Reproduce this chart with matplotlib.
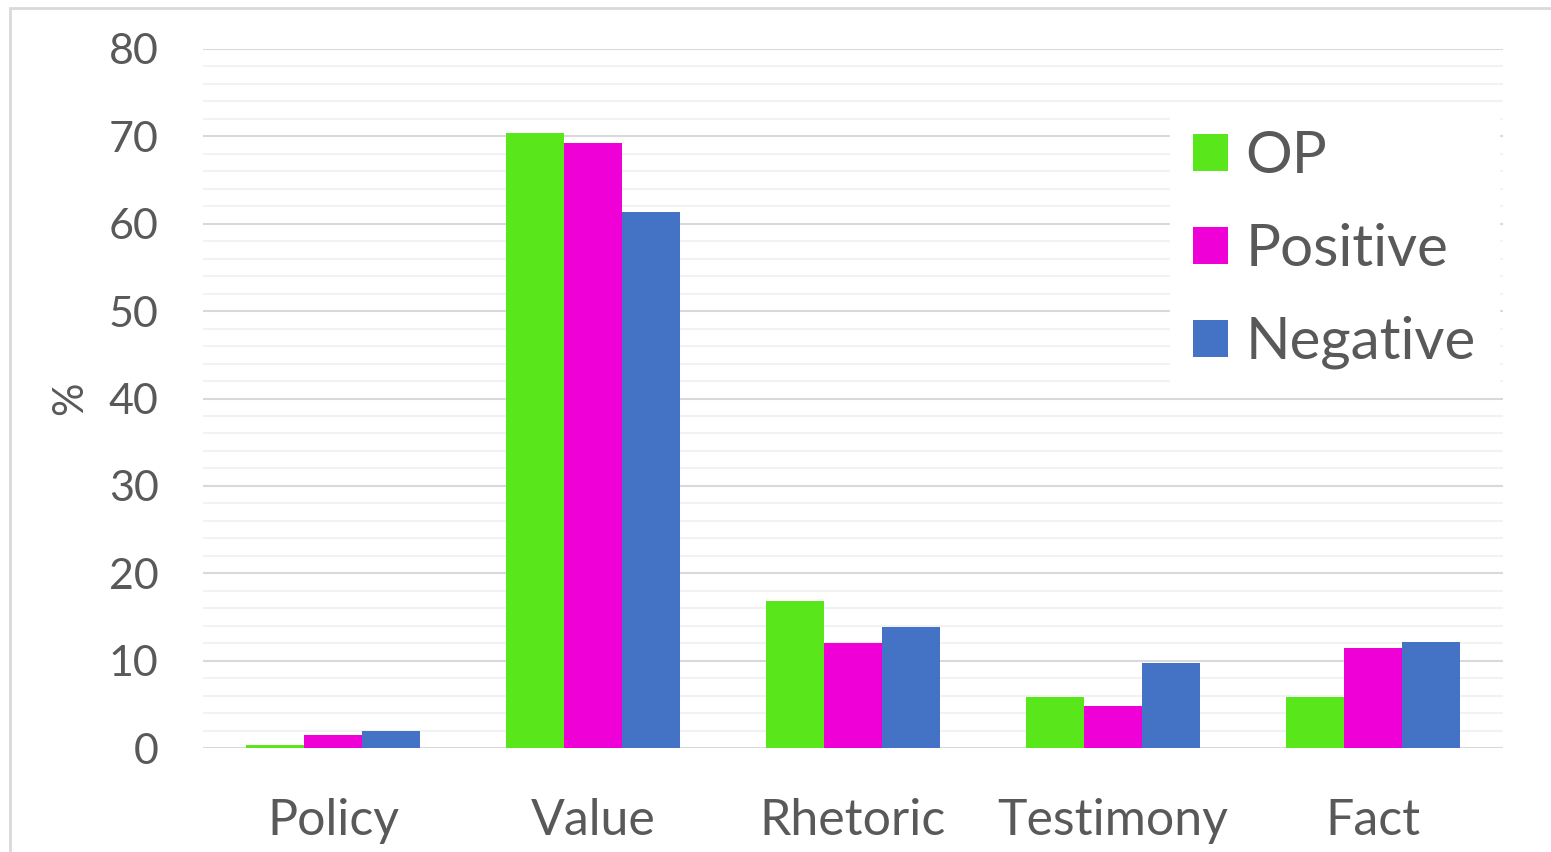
import matplotlib.pyplot as plt
import numpy as np
from matplotlib.patches import Rectangle

# datos
categorias = ['Policy', 'Value', 'Rhetoric', 'Testimony', 'Fact']
series = ['OP', 'Positive', 'Negative']
op = [0.3, 70.4, 16.8, 5.8, 5.8]
positive = [1.5, 69.2, 12.0, 4.8, 11.4]
negative = [2.0, 61.3, 13.8, 9.7, 12.1]
colores = ['#59E61A', '#EE00D6', '#4472C4']

plt.rcParams['font.family'] = ['Lato', 'DejaVu Sans']
gris = '#595959'

fig = plt.figure(figsize=(15.51, 8.52), dpi=100)
ax = fig.add_axes([203/1551, 1-748/852, 1300/1551, 699/852])

x = np.arange(len(categorias))
ancho = 0.223
for i, (vals, nombre) in enumerate(zip([op, positive, negative], series)):
    ax.bar(x + (i-1)*ancho, vals, ancho, color=colores[i], label=nombre, zorder=3)

ax.set_xlim(-0.5, len(categorias)-0.5)
ax.set_ylim(0, 80)
ax.set_yticks(np.arange(0, 81, 10))
ax.set_yticks(np.arange(0, 81, 2), minor=True)
ax.set_xticks(x)
ax.set_xticklabels(categorias)
ax.grid(True, axis='y', which='major', color='#d9d9d9', lw=1.5, zorder=0)
ax.grid(True, axis='y', which='minor', color='#f2f2f2', lw=1.5, zorder=0)
for s in ax.spines.values():
    s.set_visible(False)
ax.axhline(0, color='#d9d9d9', lw=2, zorder=2)
ax.tick_params(axis='both', which='both', length=0, colors=gris)
ax.tick_params(axis='y', labelsize=31, pad=32)
ax.tick_params(axis='x', labelsize=36, pad=36)
ax.set_ylabel('%', color=gris, fontsize=30, labelpad=14)

# leyenda con fondo blanco que tapa la cuadricula
leg = ax.legend(loc='upper right', bbox_to_anchor=(0.997, 0.917), fontsize=42,
                frameon=True, fancybox=False, edgecolor='white', facecolor='white',
                framealpha=1, handlelength=0.6, handleheight=0.6, handletextpad=0.3,
                labelspacing=0.68, borderpad=0.4, borderaxespad=0)
for t in leg.get_texts():
    t.set_color(gris)

fig.patches.append(Rectangle((10/1551, -0.01), 1.02, 1-8/852+0.01, transform=fig.transFigure,
                             fill=False, edgecolor='#d9d9d9', lw=2))

fig.savefig('out.png', dpi=100)
